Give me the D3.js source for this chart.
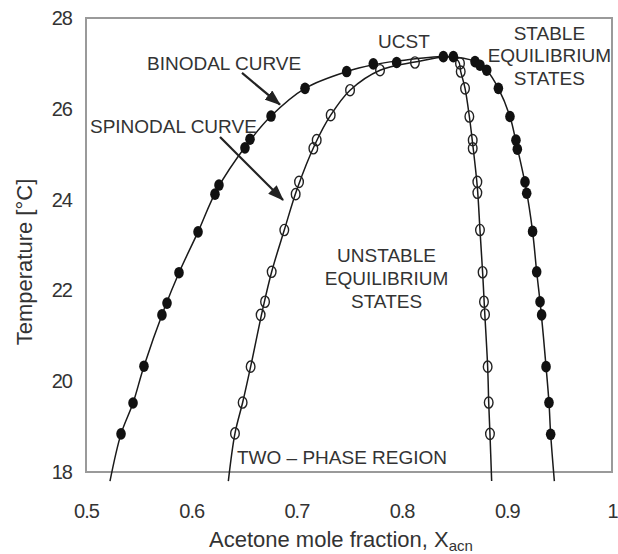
<!DOCTYPE html>
<html>
<head>
<meta charset="utf-8">
<script src="https://cdn.jsdelivr.net/npm/d3@7"></script>
<style>
  body { margin: 0; background: #fff; }
  text { font-family: Arial, "Liberation Sans", sans-serif; fill: #333; }
</style>
</head>
<body>
<svg id="chart" width="618" height="554"></svg>
<script>
// measured points, [acetone mole fraction, temperature °C]
const binodalPoints = [
  [0.5333, 18.84], [0.5447, 19.52], [0.5551, 20.33], [0.5722, 21.46], [0.5770, 21.72],
  [0.5884, 22.39], [0.6065, 23.29], [0.6226, 24.12], [0.6264, 24.32], [0.6511, 25.14],
  [0.6559, 25.33], [0.6759, 25.84], [0.7082, 26.45], [0.7478, 26.82], [0.7731, 26.99],
  [0.7953, 27.02], [0.8397, 27.15], [0.8492, 27.15], [0.8698, 27.04], [0.8745, 26.96],
  [0.8809, 26.85], [0.8920, 26.45], [0.9030, 25.83], [0.9087, 25.31], [0.9100, 25.11],
  [0.9173, 24.39], [0.9189, 24.14], [0.9245, 23.30], [0.9284, 22.41], [0.9316, 21.75],
  [0.9331, 21.46], [0.9373, 20.32], [0.9401, 19.53], [0.9417, 18.83]
];
const spinodalPoints = [
  [0.6416, 18.85], [0.6489, 19.53], [0.6565, 20.32], [0.6660, 21.46], [0.6702, 21.75],
  [0.6765, 22.41], [0.6885, 23.33], [0.6993, 24.12], [0.7025, 24.39], [0.7161, 25.13],
  [0.7193, 25.31], [0.7326, 25.86], [0.7510, 26.41], [0.7795, 26.85], [0.8127, 27.02],
  [0.8555, 27.00], [0.8562, 26.82], [0.8603, 26.45], [0.8644, 25.83], [0.8676, 25.31],
  [0.8676, 25.13], [0.8720, 24.39], [0.8720, 24.15], [0.8745, 23.33], [0.8770, 22.40],
  [0.8783, 21.75], [0.8793, 21.47], [0.8818, 20.32], [0.8828, 19.53], [0.8840, 18.84]
];

// fitted curves as traced in the figure
const binodalCurve = [
  [0.5228, 17.8], [0.5333, 18.84], [0.5447, 19.52], [0.5551, 20.33], [0.5745, 21.6],
  [0.5884, 22.39], [0.6065, 23.29], [0.6245, 24.22], [0.6535, 25.23], [0.6759, 25.84],
  [0.7082, 26.45], [0.7478, 26.82], [0.7731, 26.97], [0.7953, 27.05], [0.8445, 27.15],
  [0.8698, 27.04], [0.8809, 26.85], [0.8920, 26.45], [0.9030, 25.83], [0.9093, 25.21],
  [0.9181, 24.27], [0.9245, 23.30], [0.9284, 22.41], [0.9323, 21.6], [0.9373, 20.32],
  [0.9401, 19.53], [0.9417, 18.83], [0.9452, 17.8]
];
const spinodalCurve = [
  [0.6353, 17.8], [0.6416, 18.85], [0.6489, 19.53], [0.6565, 20.32], [0.6681, 21.6],
  [0.6765, 22.41], [0.6885, 23.33], [0.7009, 24.25], [0.7177, 25.22], [0.7326, 25.86],
  [0.7510, 26.41], [0.7795, 26.85], [0.8127, 27.03], [0.8445, 27.14], [0.8540, 27.05],
  [0.8562, 26.82], [0.8603, 26.45], [0.8644, 25.83], [0.8676, 25.22], [0.8720, 24.27],
  [0.8745, 23.33], [0.8770, 22.40], [0.8788, 21.6], [0.8818, 20.32], [0.8828, 19.53],
  [0.8840, 18.84], [0.8856, 17.8]
];

const xTicks = [0.5, 0.6, 0.7, 0.8, 0.9, 1];
const yTicks = [18, 20, 22, 24, 26, 28];

// annotation texts, positioned in data units
const labels = [
  { text: "BINODAL CURVE", x: 0.558, t: 26.85, anchor: "start" },
  { text: "SPINODAL CURVE", x: 0.5038, t: 25.47, anchor: "start" },
  { text: "UCST", x: 0.7776, t: 27.34, anchor: "start" },
  { text: "STABLE", x: 0.9405, t: 27.52, anchor: "middle" },
  { text: "EQUILIBRIUM", x: 0.9405, t: 27.02, anchor: "middle" },
  { text: "STATES", x: 0.9405, t: 26.52, anchor: "middle" },
  { text: "UNSTABLE", x: 0.7857, t: 22.63, anchor: "middle" },
  { text: "EQUILIBRIUM", x: 0.7857, t: 22.12, anchor: "middle" },
  { text: "STATES", x: 0.7857, t: 21.61, anchor: "middle" },
  { text: "TWO \u2013 PHASE REGION", x: 0.6435, t: 18.18, anchor: "start" }
];
const arrows = [
  { from: [0.6483, 26.79], to: [0.6844, 26.09] },
  { from: [0.6274, 25.38], to: [0.6873, 23.99] }
];

const margin = { top: 18, right: 6, bottom: 82, left: 86 };
const width = 618 - margin.left - margin.right;
const height = 554 - margin.top - margin.bottom;

const svg = d3.select("#chart")
  .append("g")
  .attr("transform", `translate(${margin.left}, ${margin.top})`);

const x = d3.scaleLinear().domain([0.5, 1]).range([0, width]);
const y = d3.scaleLinear().domain([18, 28]).range([height, 0]);

// axes: labels only, no tick marks
const xAxis = svg.append("g")
  .attr("transform", `translate(0, ${height})`)
  .call(d3.axisBottom(x).tickValues(xTicks).tickFormat(d => String(d)).tickSize(0).tickPadding(32));
const yAxis = svg.append("g")
  .call(d3.axisLeft(y).tickValues(yTicks).tickFormat(d => String(d)).tickSize(0).tickPadding(14));
[xAxis, yAxis].forEach(a => {
  a.select(".domain").remove();
  a.selectAll("text")
    .style("font-size", "20px")
    .style("letter-spacing", "-1px")
    .attr("fill", "#333");
});

// frame
svg.append("rect")
  .attr("width", width)
  .attr("height", height)
  .attr("fill", "none")
  .attr("stroke", "#9a9a9a")
  .attr("stroke-width", 2);

// axis titles
svg.append("text")
  .attr("transform", "rotate(-90)")
  .attr("x", -(262 - margin.top))
  .attr("y", 32 - margin.left)
  .attr("text-anchor", "middle")
  .style("font-size", "22px")
  .text("Temperature [°C]");

const xTitle = svg.append("text")
  .attr("x", 209 - margin.left)
  .attr("y", 547 - margin.top)
  .style("font-size", "22px")
  .text("Acetone mole fraction, X");
xTitle.append("tspan")
  .attr("dy", 4)
  .style("font-size", "15px")
  .text("acn");

// curves
const line = d3.line()
  .x(d => x(d[0]))
  .y(d => y(d[1]))
  .curve(d3.curveCatmullRom.alpha(0.5));

[binodalCurve, spinodalCurve].forEach(c => {
  svg.append("path")
    .datum(c)
    .attr("fill", "none")
    .attr("stroke", "#1a1a1a")
    .attr("stroke-width", 1.5)
    .attr("d", line);
});

// markers
svg.selectAll(".spin")
  .data(spinodalPoints)
  .enter()
  .append("ellipse")
  .attr("class", "spin")
  .attr("cx", d => x(d[0]))
  .attr("cy", d => y(d[1]))
  .attr("rx", 4.3)
  .attr("ry", 5.6)
  .attr("fill", "none")
  .attr("stroke", "#222")
  .attr("stroke-width", 1.4);

svg.selectAll(".bin")
  .data(binodalPoints)
  .enter()
  .append("ellipse")
  .attr("class", "bin")
  .attr("cx", d => x(d[0]))
  .attr("cy", d => y(d[1]))
  .attr("rx", 4.8)
  .attr("ry", 5.8)
  .attr("fill", "#111");

// annotations
svg.selectAll(".lbl")
  .data(labels)
  .enter()
  .append("text")
  .attr("class", "lbl")
  .attr("x", d => x(d.x))
  .attr("y", d => y(d.t))
  .attr("text-anchor", d => d.anchor)
  .style("font-size", "19px")
  .text(d => d.text);

svg.append("defs").append("marker")
  .attr("id", "head")
  .attr("viewBox", "0 0 16 12")
  .attr("refX", 15)
  .attr("refY", 6)
  .attr("markerWidth", 16)
  .attr("markerHeight", 12)
  .attr("markerUnits", "userSpaceOnUse")
  .attr("orient", "auto")
  .append("path")
  .attr("d", "M0,0L16,6L0,12z")
  .attr("fill", "#222");

svg.selectAll(".arrow")
  .data(arrows)
  .enter()
  .append("line")
  .attr("class", "arrow")
  .attr("x1", d => x(d.from[0]))
  .attr("y1", d => y(d.from[1]))
  .attr("x2", d => x(d.to[0]))
  .attr("y2", d => y(d.to[1]))
  .attr("stroke", "#222")
  .attr("stroke-width", 2.2)
  .attr("marker-end", "url(#head)");
</script>
</body>
</html>
